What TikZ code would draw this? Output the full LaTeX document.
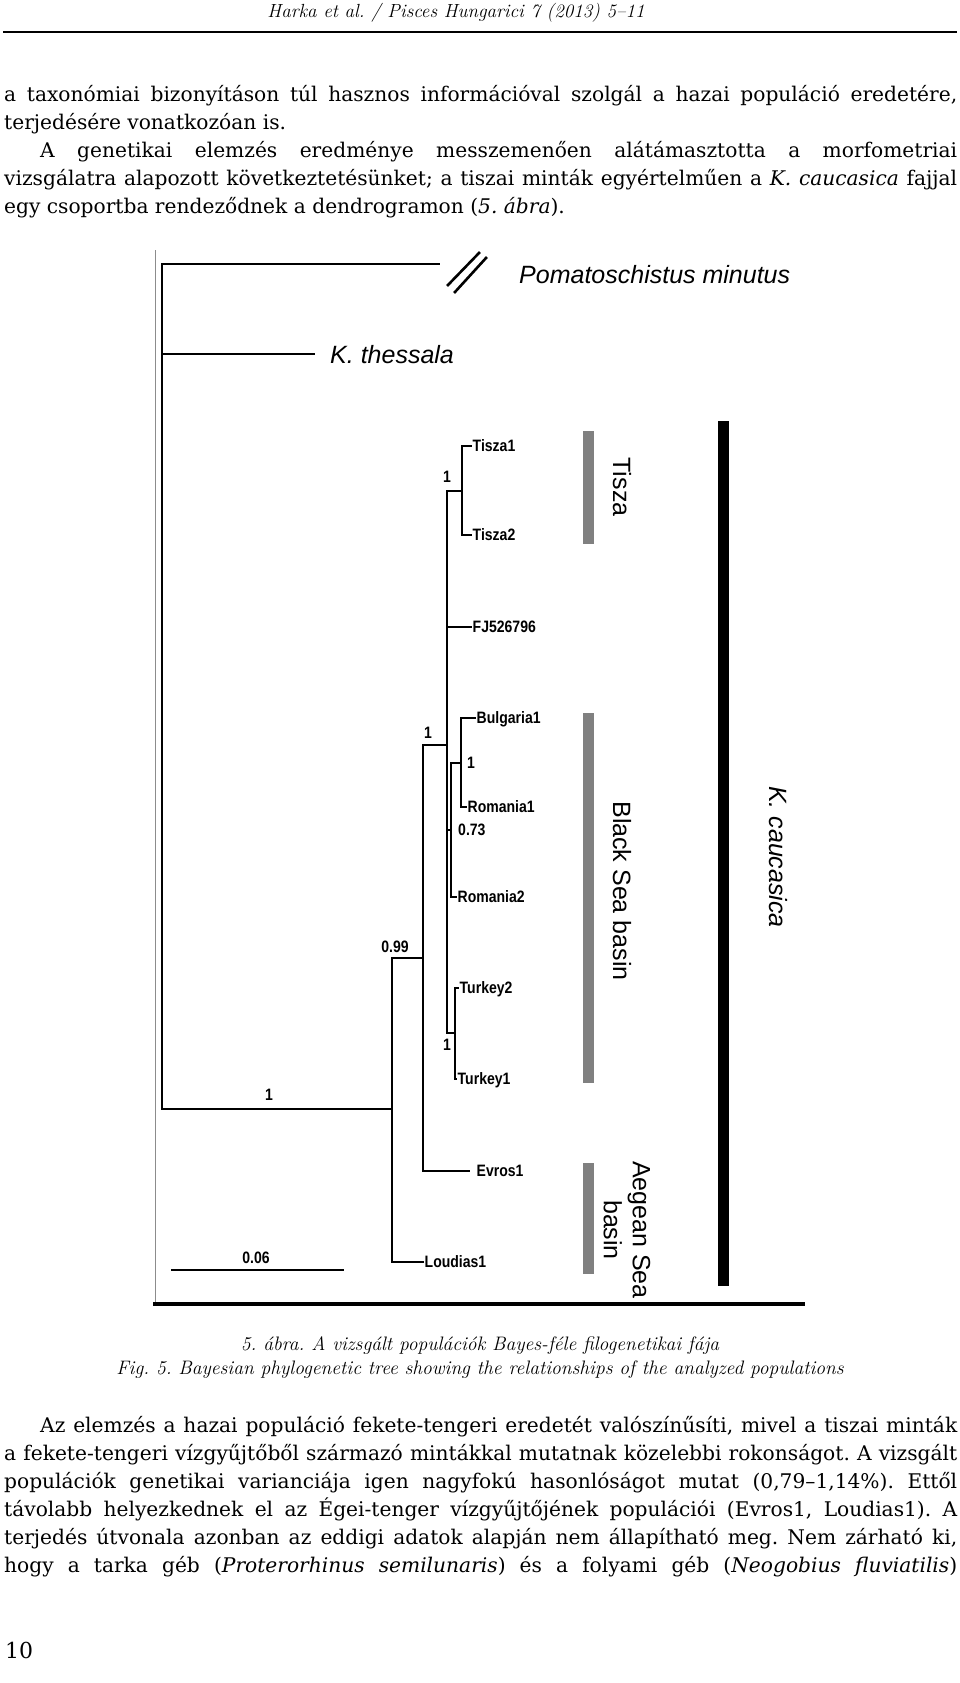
\documentclass[tikz,border=0pt]{standalone}
\usepackage{fontspec}
\usepackage{xcolor}
\usepackage{tikz}
\newfontfamily\arialfont{Liberation Sans}
\newfontfamily\narrowfont[FakeStretch=0.85]{Liberation Sans}
\newfontfamily\bodyfont[Ligatures=TeX]{DejaVu Serif}
\definecolor{barg}{HTML}{808080}
\definecolor{framec}{HTML}{8C8C8C}
\newcommand{\jline}[2]{\makebox[#1pt][s]{#2}}
\frenchspacing
\tikzset{
  br/.style={line width=2.6pt,black,line cap=rect},
  lf/.style={font=\narrowfont\bfseries\fontsize{16.5}{16.5}\selectfont,anchor=west,inner sep=1.5pt,text height=11.8pt,text depth=0pt},
  pp/.style={font=\narrowfont\bfseries\fontsize{16.5}{16.5}\selectfont,inner sep=0pt},
  big/.style={font=\arialfont\fontsize{25}{29}\selectfont,inner sep=0pt},
  bigit/.style={font=\arialfont\itshape\fontsize{25}{29}\selectfont,inner sep=0pt},
  gbar/.style={line width=11pt,barg},
  txt/.style={anchor=base west,inner sep=0pt,font=\bodyfont\fontsize{20.2}{27}\selectfont},
  capt/.style={anchor=base,inner sep=0pt,font=\itshape\fontsize{19.5}{24}\selectfont}
}
\begin{document}
\begin{tikzpicture}[x=1pt,y=-1pt]
\useasboundingbox (0,0) rectangle (960,1683);
\fill[white] (0,0) rectangle (960,1683);
% running head
\node[anchor=base,inner sep=0pt,font=\itshape\fontsize{19}{22}\selectfont] (head) at (456,18) {Harka et al. / Pisces Hungarici 7 (2013) 5--11};
\draw[line width=1.5pt] (3,32) -- (957,32);
% text above the figure
\node[txt] (pa1) at (4,102) {\jline{953}{a taxonómiai bizonyításon túl hasznos információval szolgál a hazai populáció eredetére,}};
\node[txt] (pa2) at (4,129.75) {terjedésére vonatkozóan is.};
\node[txt] (pa3) at (40,157.5) {\jline{917}{A genetikai elemzés eredménye messzemenően alátámasztotta a morfometriai}};
\node[txt] (pa4) at (4,185.25) {\jline{953}{vizsgálatra alapozott következtetésünket; a tiszai minták egyértelműen a \textit{K. caucasica} fajjal}};
\node[txt] (pa5) at (4,213) {egy csoportba rendeződnek a dendrogramon (\textit{5. ábra}).};
% frame
\draw[line width=1pt,framec] (155,250) -- (155,1305);
\draw[line width=4pt] (153,1304) -- (805,1304);
% outgroups
\coordinate (n0) at (162,1109);
\coordinate (pomend) at (439,264);
\node[bigit,anchor=west] (pomin) at (519,275) {Pomatoschistus minutus};
\node[bigit,anchor=west,text height=18pt,text depth=0pt] (thess) at (330,354) {K. thessala};
\draw[br] (n0) |- (pomend);
\draw[br] (448,285) -- (479,253);
\draw[br] (455,292) -- (486,258);
\draw[br,shorten >=16pt] (n0) |- (thess);
% internal nodes
\coordinate (n1) at (392,1109);
\coordinate (n2) at (423,958);
\coordinate (n3) at (447,745);
\coordinate (nt) at (462,491);
\coordinate (n4) at (451,830);
\coordinate (nb) at (461,763);
\coordinate (nk) at (455,1033);
% leaves
\node[lf] (tisza1) at (471,446) {Tisza1};
\node[lf] (tisza2) at (471,535) {Tisza2};
\node[lf] (fj) at (471,627) {FJ526796};
\node[lf] (bulg) at (475,718) {Bulgaria1};
\node[lf] (rom1) at (466,807) {Romania1};
\node[lf] (rom2) at (456,897) {Romania2};
\node[lf] (tur2) at (458,988) {Turkey2};
\node[lf] (tur1) at (456,1079) {Turkey1};
\node[lf] (evros) at (475,1171) {Evros1};
\node[lf] (loud) at (423,1262) {Loudias1};
% branches
\draw[br] (n0) -- (n1);
\draw[br] (n1) |- (n2);
\draw[br] (n1) |- (loud);
\draw[br] (n2) |- (n3);
\draw[br,shorten >=6pt] (n2) |- (evros);
\draw[br] (n3) |- (nt);
\draw[br] (n3) |- (fj);
\draw[br] (n3) |- (n4);
\draw[br] (n3) |- (nk);
\draw[br] (nt) |- (tisza1);
\draw[br] (nt) |- (tisza2);
\draw[br] (n4) |- (nb);
\draw[br] (n4) |- (rom2);
\draw[br] (nb) |- (bulg);
\draw[br] (nb) |- (rom1);
\draw[br] (nk) |- (tur2);
\draw[br] (nk) |- (tur1);
% posterior values
\node[pp] (s1) at (269,1095) {1};
\node[pp] (s2) at (395,947) {0.99};
\node[pp] (s3) at (428,733) {1};
\node[pp] (s4) at (447,477) {1};
\node[pp,anchor=west] (s5) at (467,763) {1};
\node[pp,anchor=west] (s6) at (458,830) {0.73};
\node[pp] (s7) at (447,1045) {1};
% scale bar
\coordinate (sbl) at (171,1270);
\coordinate (sbr) at (344,1270);
\draw[br,line cap=butt] (sbl) -- (sbr);
\node[pp] (sbv) at (256,1258) {0.06};
% groups
\draw[gbar] (588.5,431) -- (588.5,544);
\draw[gbar] (588.5,713) -- (588.5,1083);
\draw[gbar] (588.5,1163) -- (588.5,1274);
\draw[line width=11pt] (723.5,421) -- (723.5,1286);
\node[big,rotate=-90] (tiszal) at (622,487) {Tisza};
\node[big,rotate=-90] (bsea) at (622,891) {Black Sea basin};
\node[big,rotate=-90,align=center] (aeg) at (627,1230) {Aegean Sea\\basin};
\node[bigit,rotate=-90] (kcau) at (778,857) {K. caucasica};
% caption
\node[capt] (cap1) at (480,1350) {5. ábra. A vizsgált populációk Bayes-féle filogenetikai fája};
\node[capt] (cap2) at (480,1374) {Fig. 5. Bayesian phylogenetic tree showing the relationships of the analyzed populations};
% text below the figure
\node[txt] (pb1) at (40,1432) {\jline{917}{Az elemzés a hazai populáció fekete-tengeri eredetét valószínűsíti, mivel a tiszai minták}};
\node[txt] (pb2) at (4,1460) {\jline{953}{a fekete-tengeri vízgyűjtőből származó mintákkal mutatnak közelebbi rokonságot. A vizsgált}};
\node[txt] (pb3) at (4,1488) {\jline{953}{populációk genetikai varianciája igen nagyfokú hasonlóságot mutat (0,79–1,14\%). Ettől}};
\node[txt] (pb4) at (4,1516) {\jline{953}{távolabb helyezkednek el az Égei-tenger vízgyűjtőjének populációi (Evros1, Loudias1). A}};
\node[txt] (pb5) at (4,1544) {\jline{953}{terjedés útvonala azonban az eddigi adatok alapján nem állapítható meg. Nem zárható ki,}};
\node[txt] (pb6) at (4,1572) {\jline{953}{hogy a tarka géb (\textit{Proterorhinus semilunaris}) és a folyami géb (\textit{Neogobius fluviatilis})}};
\node[txt,font=\bodyfont\fontsize{22}{28}\selectfont] (pnum) at (5,1658) {10};
\end{tikzpicture}
\end{document}
